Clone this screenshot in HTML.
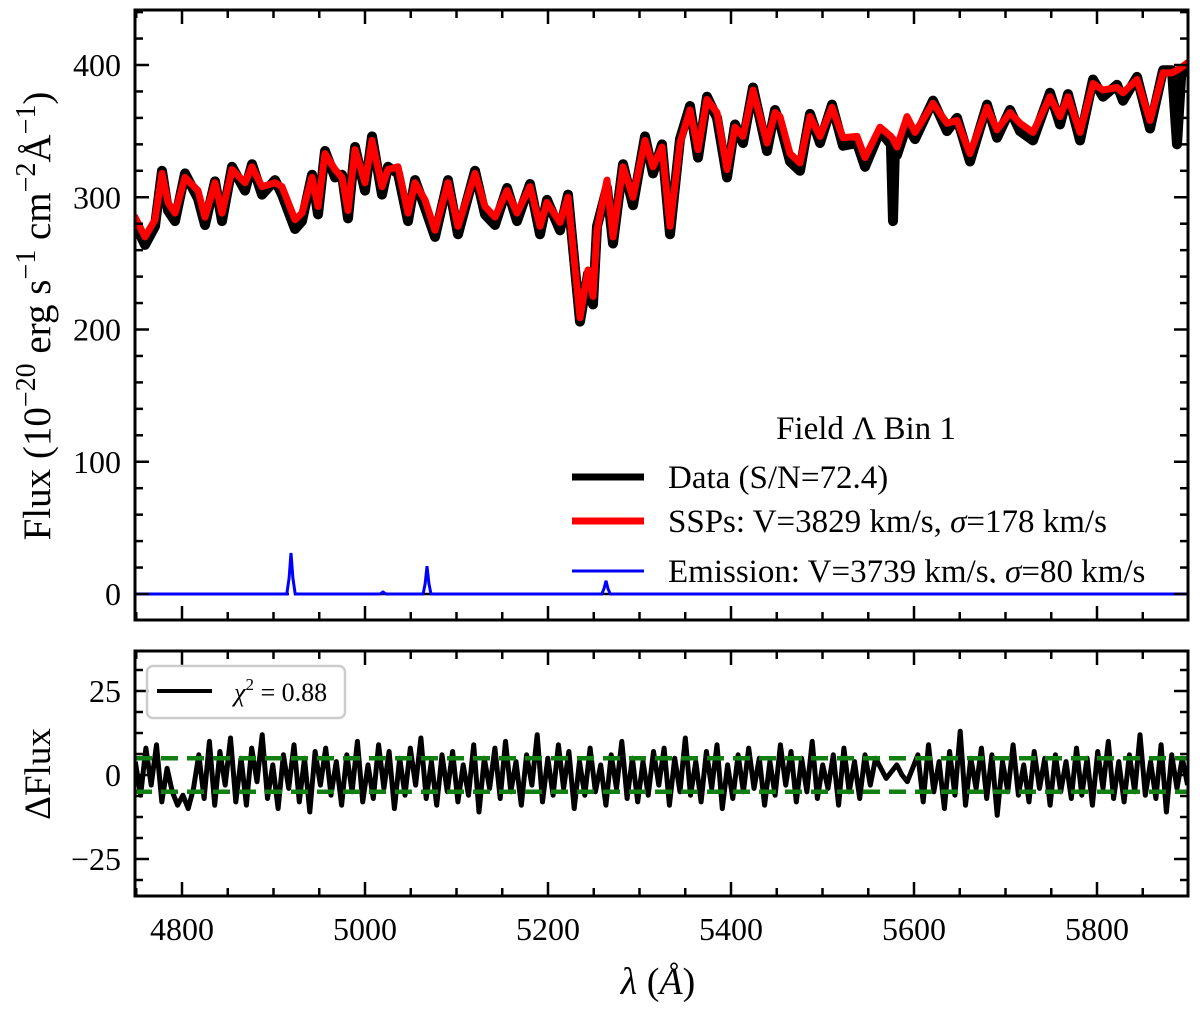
<!DOCTYPE html>
<html><head><meta charset="utf-8"><style>
body{margin:0;background:#fff}
svg{display:block;font-family:"Liberation Serif",serif}
</style></head><body>
<svg id="chart" width="1200" height="1009" viewBox="0 0 1200 1009" xmlns="http://www.w3.org/2000/svg">
<defs>
<clipPath id="clipTop"><rect x="135" y="10" width="1053" height="610"/></clipPath>
<clipPath id="clipBot"><rect x="135" y="651" width="1053" height="245"/></clipPath>
<clipPath id="clipLeg"><rect x="560" y="400" width="640" height="183"/></clipPath>
</defs>
<g id="gtop"></g>
<g id="gbot"></g>
<text transform="translate(50,316) rotate(-90)" text-anchor="middle" font-size="39">Flux (10<tspan dy="-15" font-size="28">−20</tspan><tspan dy="15"> erg s</tspan><tspan dy="-15" font-size="28">−1</tspan><tspan dy="15"> cm</tspan><tspan dy="-15" font-size="28">−2</tspan><tspan dy="15">Å</tspan><tspan dy="-15" font-size="28">−1</tspan><tspan dy="15">)</tspan></text>
<text transform="translate(50,774) rotate(-90)" text-anchor="middle" font-size="37">ΔFlux</text>
<text x="658" y="994" text-anchor="middle" font-size="38"><tspan font-style="italic">λ</tspan> (<tspan font-style="italic">Å</tspan>)</text>
<g clip-path="url(#clipLeg)">
<text x="866" y="439" text-anchor="middle" font-size="33">Field Λ Bin 1</text>
<line x1="572" x2="644" y1="477" y2="477" stroke="#000" stroke-width="7"/>
<text x="668" y="488" font-size="33">Data (S/N=72.4)</text>
<line x1="572" x2="644" y1="521" y2="521" stroke="#ff0000" stroke-width="7"/>
<text x="668" y="532" font-size="33">SSPs: V=3829 km/s, <tspan font-style="italic">σ</tspan>=178 km/s</text>
<line x1="572" x2="644" y1="571" y2="571" stroke="#0000ff" stroke-width="3"/>
<text x="668" y="582" font-size="33">Emission: V=3739 km/s, <tspan font-style="italic">σ</tspan>=80 km/s</text>
</g>
<g>
<rect x="147" y="666" width="198" height="52" rx="6" fill="#fff" fill-opacity="0.8" stroke="#cccccc" stroke-width="2.5"/>
<line x1="157" x2="212" y1="691" y2="691" stroke="#000" stroke-width="4"/>
<text x="234" y="701" font-size="26"><tspan font-style="italic">χ</tspan><tspan dy="-11" font-size="17">2</tspan><tspan dy="11"> = 0.88</tspan></text>
</g>
</svg>
<script>
const lam = [4748.6,4759.6,4770.5,4778.1,4784.7,4792.3,4803.3,4817.5,4825.1,4836.1,4843.7,4854.6,4868.9,4876.5,4887.4,4901.6,4909.3,4923.5,4931.1,4942.1,4948.6,4956.3,4967.2,4974.9,4981.4,4989.1,5000.0,5007.7,5018.6,5025.1,5036.1,5047.0,5054.6,5065.6,5076.5,5090.7,5101.6,5120.2,5131.1,5142.1,5155.2,5166.1,5180.3,5191.3,5198.9,5213.1,5221.9,5235.0,5243.7,5249.2,5253.6,5264.5,5271.0,5282.0,5292.9,5306.0,5314.8,5324.6,5333.3,5344.3,5355.2,5363.9,5373.8,5384.7,5395.6,5404.4,5413.1,5424.0,5439.3,5448.1,5453.6,5464.5,5475.4,5486.3,5497.3,5510.4,5522.4,5537.7,5546.4,5562.8,5574.8,5577.0,5579.2,5581.4,5592.3,5601.1,5620.8,5636.1,5647.0,5661.2,5679.8,5690.7,5704.9,5715.8,5730.1,5748.6,5759.6,5768.3,5781.4,5795.6,5806.6,5821.9,5828.4,5843.7,5857.9,5872.1,5882.0,5887.4,5892.0,5899.5];
const model = [285,270,283,318,296,288,315,305,285,311,288,321,311,323,308,311,308,283,288,315,293,333,321,315,290,336,311,343,308,321,323,288,311,298,275,311,278,318,293,285,305,288,308,278,296,281,300,209,245,225,275,313,270,323,300,343,323,338,278,341,366,336,374,364,321,353,346,381,341,364,361,333,326,361,346,368,345,346,330,353,346,344,341,338,361,349,371,356,358,333,368,351,364,356,349,376,361,376,349,386,381,383,379,389,358,394,394,396,398,402];
const data = [280,264,278,320,290,282,318,299,279,312,282,323,305,325,302,313,302,276,282,317,287,335,315,317,284,338,305,346,302,323,318,282,313,292,270,313,272,320,287,279,307,282,310,272,298,275,302,206,242,219,278,307,265,325,294,346,318,340,272,344,369,330,376,360,315,355,341,383,335,366,356,327,320,363,341,370,339,341,323,350,340,282,339,332,355,344,373,350,360,327,370,345,366,350,343,379,355,378,343,389,376,385,373,391,352,396,396,340,392,400];
const emLam = [4748.6,4914.5,4917.0,4919.1,4921.2,4923.7,5016.5,5019.7,5023.0,5063.5,5065.8,5067.8,5069.8,5072.1,5258.8,5261.2,5263.4,5265.6,5268.0,5899.5];
const emFlux = [0,0,12,31,12,0,0,1.5,0,0,8,21,8,0,0,4,10,4,0,0];
const resid = [4,-6,8,-3,9,-8,2,-5,-9,-6,-10,-4,6,-7,10,-9,7,-3,11,-8,
5,-9,8,-2,12,-7,3,-10,6,-4,9,-8,5,-11,7,-3,8,-6,4,-9,
6,-5,10,-8,3,-7,9,-4,7,-10,5,-6,8,-3,11,-7,4,-9,6,-5,
7,-8,3,-6,9,-11,5,-4,8,-7,10,-5,4,-9,6,-3,12,-8,5,-6,
9,-4,7,-10,4,-6,8,-5,3,-9,6,-4,10,-7,5,-8,4,-6,7,-3,
8,-9,5,-5,11,-6,4,-8,7,-4,9,-10,3,-7,6,-5,8,-4,5,-9,
4,-6,9,-3,7,-8,5,-5,10,-7,3,-4,6,-9,8,-5,4,-7,6,-3,
5,2,-1,1,3,0,-2,2,6,-8,9,-5,4,-10,7,-6,13,-9,5,-4,
8,-7,6,-12,4,-5,9,-6,3,-8,7,-4,5,-9,6,-5,4,-7,8,-6,
5,-9,7,-4,10,-7,4,-8,6,-5,12,-6,4,-7,9,-11,6,-4,5,-3];
const xTicks = [4800,5000,5200,5400,5600,5800];
const yTopTicks = [0,100,200,300,400];
const yBotTicks = [-25,0,25];

const NS="http://www.w3.org/2000/svg";
const X0=135,X1=1188;
const xs = l => 182 + (l-4800)*0.915;
const yt = f => 594 - f*1.3225;
const yb = r => 775 - r*3.36;
const pTop=document.getElementById('gtop'), pBot=document.getElementById('gbot');
function mk(tag,attrs,parent,text){const e=document.createElementNS(NS,tag);for(const k in attrs)e.setAttribute(k,attrs[k]);if(text!==undefined)e.textContent=text;parent.appendChild(e);return e;}
function poly(xa,ya,fx,fy){return xa.map((v,i)=>fx(v).toFixed(1)+','+fy(ya[i]).toFixed(1)).join(' ');}

const gT=mk('g',{'clip-path':'url(#clipTop)'},pTop);
let e;
e=mk('line',{x1:X0,x2:X1,y1:yt(0),y2:yt(0),stroke:'#000','stroke-width':2.5,'stroke-dasharray':'10,6'},gT);


e=mk('polyline',{points:poly(lam,data,xs,yt),fill:'none',stroke:'#000','stroke-width':10,'stroke-linejoin':'round','stroke-linecap':'round'},gT);


e=mk('polyline',{points:poly(lam,model,xs,yt),fill:'none',stroke:'#ff0000','stroke-width':7,'stroke-linejoin':'round','stroke-linecap':'round'},gT);


e=mk('polyline',{points:poly(emLam,emFlux,xs,yt),fill:'none',stroke:'#0000ff','stroke-width':3},gT);



const gB=mk('g',{'clip-path':'url(#clipBot)'},pBot);
const resLam=resid.map((_,i)=>4749+i*(1150/(resid.length-1)));
e=mk('polyline',{points:poly(resLam,resid,xs,yb),fill:'none',stroke:'#000','stroke-width':5,'stroke-linejoin':'round'},gB);


[5,-5].forEach(v=>{
 const l=mk('line',{x1:X0,x2:X1,y1:yb(v),y2:yb(v),stroke:'#117f11','stroke-width':4.5,'stroke-dasharray':'17,9'},gB);
 
 
});

function frame(parent,yA,yB,name){
 const r=mk('rect',{x:X0,y:yA,width:X1-X0,height:yB-yA,fill:'none',stroke:'#000','stroke-width':3},parent);
 
 
 for(let l=4750;l<=5900;l+=50){
  const x=xs(l); if(x<X0||x>X1)continue;
  const len=(l%200===0)?14:8;
  mk('line',{x1:x,x2:x,y1:yB,y2:yB-len,stroke:'#000','stroke-width':2.5},parent);
  mk('line',{x1:x,x2:x,y1:yA,y2:yA+len,stroke:'#000','stroke-width':2.5},parent);
 }
}
frame(pTop,10,620,'top-axes-frame');
frame(pBot,651,896,'bottom-axes-frame');
for(let f=-20;f<=440;f+=20){const y=yt(f);if(y<10||y>620)continue;const len=(f%100===0)?14:8;
 mk('line',{x1:X0,x2:X0+len,y1:y,y2:y,stroke:'#000','stroke-width':2.5},pTop);
 mk('line',{x1:X1,x2:X1-len,y1:y,y2:y,stroke:'#000','stroke-width':2.5},pTop);}
for(let r=-37.5;r<=37.5;r+=6.25){const y=yb(r);if(y<651||y>896)continue;const len=(Math.abs(r%25)<0.01)?14:8;
 mk('line',{x1:X0,x2:X0+len,y1:y,y2:y,stroke:'#000','stroke-width':2.5},pBot);
 mk('line',{x1:X1,x2:X1-len,y1:y,y2:y,stroke:'#000','stroke-width':2.5},pBot);}
yTopTicks.forEach(v=>{const t=mk('text',{x:121,y:yt(v)+11,'text-anchor':'end','font-size':32},pTop,String(v));
 
 });
yBotTicks.forEach(v=>{const t=mk('text',{x:121,y:yb(v)+11,'text-anchor':'end','font-size':32},pBot,v<0?'\u2212'+(-v):String(v));
 
 });
xTicks.forEach(v=>{const t=mk('text',{x:xs(v),y:940,'text-anchor':'middle','font-size':32},pBot,String(v));
 
 });
</script>
</body></html>
